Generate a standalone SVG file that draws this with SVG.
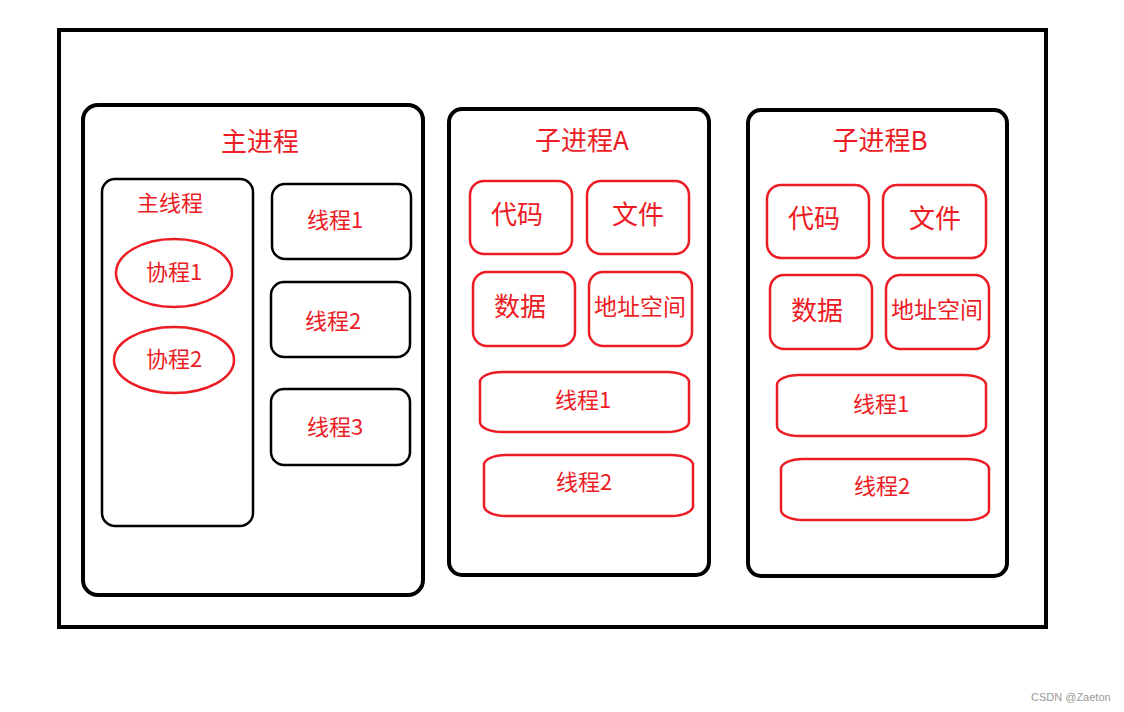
<svg xmlns="http://www.w3.org/2000/svg" width="1124" height="712" viewBox="0 0 1124 712">
<style>
.bk{fill:none;stroke:#000;stroke-width:4}
.bk2{fill:none;stroke:#000;stroke-width:2.5}
.rd{fill:none;stroke:#ed1c24;stroke-width:2.5}
text{font-family:"Microsoft YaHei","Noto Sans CJK SC","Noto Sans",sans-serif;fill:#ed1c24;text-anchor:middle;dominant-baseline:central}
.t26{font-size:26px}
.t24{font-size:26px}
.t22{font-size:22px}
.t23{font-size:23px}
.wm{font-family:"Liberation Sans",Arial,sans-serif;font-size:11px;fill:#999;text-anchor:start}
</style>
<rect width="1124" height="712" fill="#fff"/>
<g id="outer"><rect class="bk" x="59" y="30" width="987" height="597"/></g>
<g id="main-process">
<rect class="bk" x="83" y="105" width="340" height="490" rx="15"/>
<text class="t26" x="260" y="139">主进程</text>
</g>
<g id="main-thread">
<rect class="bk2" x="102" y="179" width="151" height="347" rx="13"/>
<text class="t22" x="170" y="201">主线程</text>
</g>
<g id="coroutine1">
<ellipse class="rd" cx="174" cy="273" rx="58" ry="34"/>
<text class="t22" x="174" y="270">协程1</text>
</g>
<g id="coroutine2">
<ellipse class="rd" cx="174" cy="360" rx="60" ry="33"/>
<text class="t22" x="174" y="357">协程2</text>
</g>
<g id="thread1">
<rect class="bk2" x="272" y="184" width="139" height="75" rx="13"/>
<text class="t22" x="335" y="218">线程1</text>
</g>
<g id="thread2">
<rect class="bk2" x="271" y="282" width="139" height="75" rx="13"/>
<text class="t22" x="333" y="319">线程2</text>
</g>
<g id="thread3">
<rect class="bk2" x="271" y="389" width="139" height="76" rx="13"/>
<text class="t22" x="335" y="425">线程3</text>
</g>

<g id="child-a">
<rect class="bk" x="449" y="109" width="260" height="466" rx="13"/>
<text class="t26" x="582" y="138">子进程A</text>
</g>
<g id="a-code"><rect class="rd" x="470" y="181" width="102" height="73" rx="14"/><text class="t24" x="517" y="212">代码</text></g>
<g id="a-file"><rect class="rd" x="587" y="181" width="102" height="73" rx="14"/><text class="t24" x="638" y="212">文件</text></g>
<g id="a-data"><rect class="rd" x="473" y="272" width="102" height="74" rx="14"/><text class="t24" x="520" y="304">数据</text></g>
<g id="a-addr"><rect class="rd" x="589" y="272" width="103" height="74" rx="14"/><text class="t23" x="640" y="305">地址空间</text></g>
<g id="a-thread1"><rect class="rd" x="480" y="372" width="209" height="60" rx="22" ry="10"/><text class="t22" x="583" y="398">线程1</text></g>
<g id="a-thread2"><rect class="rd" x="484" y="455" width="209" height="61" rx="22" ry="10"/><text class="t22" x="584" y="480">线程2</text></g>

<g id="child-b">
<rect class="bk" x="748" y="110" width="259" height="466" rx="13"/>
<text class="t26" x="880" y="138">子进程B</text>
</g>
<g id="b-code"><rect class="rd" x="767" y="185" width="102" height="73" rx="14"/><text class="t24" x="814" y="216">代码</text></g>
<g id="b-file"><rect class="rd" x="883" y="185" width="103" height="73" rx="14"/><text class="t24" x="935" y="216">文件</text></g>
<g id="b-data"><rect class="rd" x="770" y="275" width="102" height="74" rx="14"/><text class="t24" x="817" y="308">数据</text></g>
<g id="b-addr"><rect class="rd" x="886" y="275" width="103" height="74" rx="14"/><text class="t23" x="937" y="308">地址空间</text></g>
<g id="b-thread1"><rect class="rd" x="777" y="375" width="209" height="61" rx="22" ry="10"/><text class="t22" x="881" y="402">线程1</text></g>
<g id="b-thread2"><rect class="rd" x="781" y="459" width="208" height="61" rx="22" ry="10"/><text class="t22" x="882" y="484">线程2</text></g>

<g id="connectors"></g>
<text class="wm" x="1031" y="697">CSDN @Zaeton</text>
</svg>
